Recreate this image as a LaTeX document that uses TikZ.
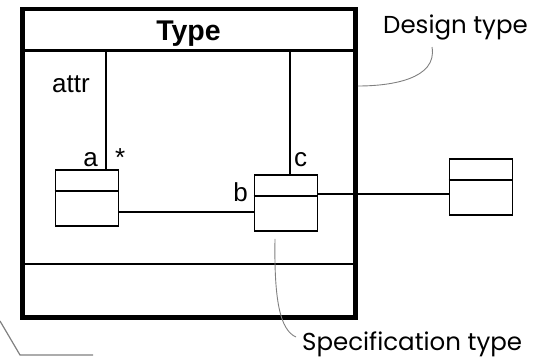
\documentclass[tikz,border=0pt]{standalone}
\usepackage{fontspec}
\setmainfont{Liberation Sans}
\newfontfamily\notefont{Poppins}
\usetikzlibrary{positioning}

\begin{document}
\begin{tikzpicture}[x=1pt, y=-1pt,
  classbox/.style={draw, line width=1.8pt, minimum width=63pt, minimum height=56pt, inner sep=0pt},
  link/.style={line width=1.8pt},
  lbl/.style={inner sep=0pt, font=\fontsize{26}{30}\selectfont},
  note/.style={inner sep=0pt, font=\notefont\fontsize{24.5}{28}\selectfont},
  callout/.style={gray, line width=0.9pt}]
  \useasboundingbox (0,0) rectangle (548,359);
  % outer class Type with its compartments
  \node[draw, line width=4.6pt, minimum width=333pt, minimum height=308.5pt] (T) at (189,163.25) {};
  \coordinate (hdr) at ([yshift=-44pt]T.north);
  \draw[line width=2.5pt] ([yshift=-44pt]T.north west) -- ([yshift=-44pt]T.north east);
  \draw[line width=2.5pt] ([yshift=56pt]T.south west) -- ([yshift=56pt]T.south east);
  \node[lbl, font=\bfseries\fontsize{28.5}{32}\selectfont, anchor=base] (tname) at (188.5,40) {Type};
  \node[lbl, anchor=base west] (attr) at (52,92.5) {attr};

  % inner parts and the outside class
  \node[classbox] (A) at (87,198) {};
  \node[classbox] (B) at (286,203) {};
  \node[classbox] (C) at (481,187) {};
  \foreach \n in {A,B,C}
    \draw[link] ([yshift=-22pt]\n.north west) -- ([yshift=-22pt]\n.north east);

  % connectors
  \draw[link] ([xshift=19pt]A.north) -- ([xshift=19pt]A.north |- hdr);
  \draw[link] ([xshift=4pt]B.north) -- ([xshift=4pt]B.north |- hdr);
  \draw[link] ([yshift=-14pt]A.east) -- ([yshift=-14pt]A.east -| B.west);
  \draw[link] ([yshift=9pt]B.east) -- ([yshift=9pt]B.east -| C.west);
  \node[lbl, anchor=base east] (ra) at (98,166) {a};
  \node[lbl, anchor=base west] (rstar) at (115,166) {*};
  \node[lbl, anchor=base west] (rc) at (294,166) {c};
  \node[lbl, anchor=base east] (rb) at (248,201.5) {b};

  % notes
  \node[note, anchor=base west] (dt) at (383,33) {Design type};
  \node[note, anchor=base west] (st) at (302,350) {Specification type};
  \coordinate (dtip) at (432,47);
  \coordinate (stip) at (296,337);
  \draw[callout] (T.east |- 0,86) to[out=0, in=-80] (dtip);
  \draw[callout] ([xshift=-11pt, yshift=-7pt]B.south) .. controls (274,300) and (280,330) .. (stip);
  \draw[callout, line width=1.2pt] (0,321) -- (20,355) -- (93,355);
\end{tikzpicture}
\end{document}
